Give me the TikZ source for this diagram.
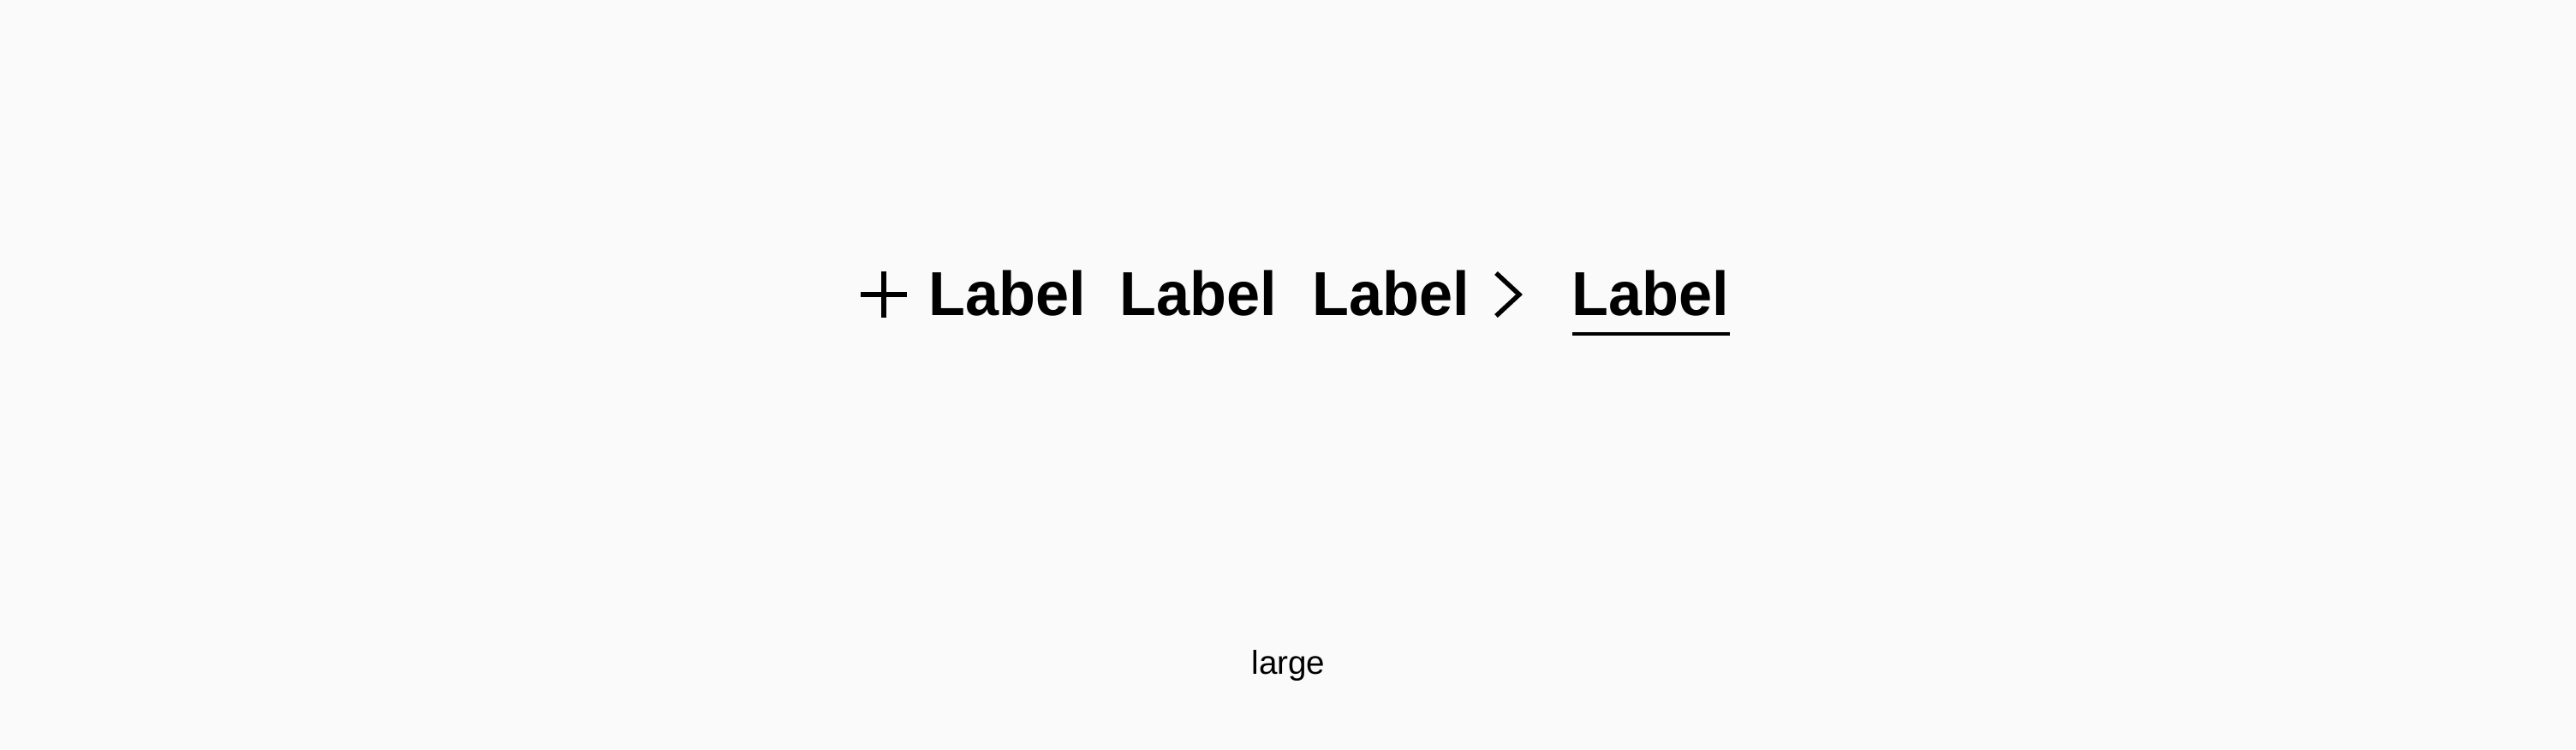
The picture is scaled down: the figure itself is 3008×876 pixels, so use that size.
\documentclass[tikz,border=0pt]{standalone}
\usepackage{fontspec}
\setmainfont{Liberation Sans}
\definecolor{bg}{HTML}{FAFAFA}
\definecolor{ink}{HTML}{000000}
\newcommand{\lbltext}[1]{\scalebox{0.967}[1]{\fontsize{36.3}{40}\selectfont\bfseries #1}}
\begin{document}
\begin{tikzpicture}[x=0.5pt,y=-0.5pt,
  lbl/.style={inner sep=0pt, anchor=base, text=ink},
  captext/.style={inner sep=0pt, anchor=base, text=ink, font=\fontsize{19.3}{22}\selectfont},
  icon/.style={draw=ink, line width=3pt},
  chev/.style={draw=ink, line width=2.7pt, line join=miter}]
\fill[bg] (0,0) rectangle (3008,876);
\useasboundingbox (0,0) rectangle (3008,876);
% plus icon
\coordinate (pl) at (1005,344);
\coordinate (pr) at (1059,344);
\coordinate (pt) at (1032,317);
\coordinate (pb) at (1032,371);
\draw[icon] (pl) -- (pr);
\draw[icon] (pt) -- (pb);
% labels
\node[lbl] (l1) at (1176,369) {\lbltext{Label}};
\node[lbl] (l2) at (1399.5,369) {\lbltext{Label}};
\node[lbl] (l3) at (1624,369) {\lbltext{Label}};
\node[lbl] (l4) at (1927.5,369) {\lbltext{Label}};
% chevron
\coordinate (c1) at (1747,319);
\coordinate (c2) at (1774,344);
\coordinate (c3) at (1747,369);
\draw[chev] (c1) -- (c2) -- (c3);
% underline
\coordinate (u1) at (1836,390);
\coordinate (u2) at (2020,390);
\draw[draw=ink, line width=2pt] (u1) -- (u2);
% caption
\node[captext] (large) at (1504.5,787) {large};
\end{tikzpicture}
\end{document}
